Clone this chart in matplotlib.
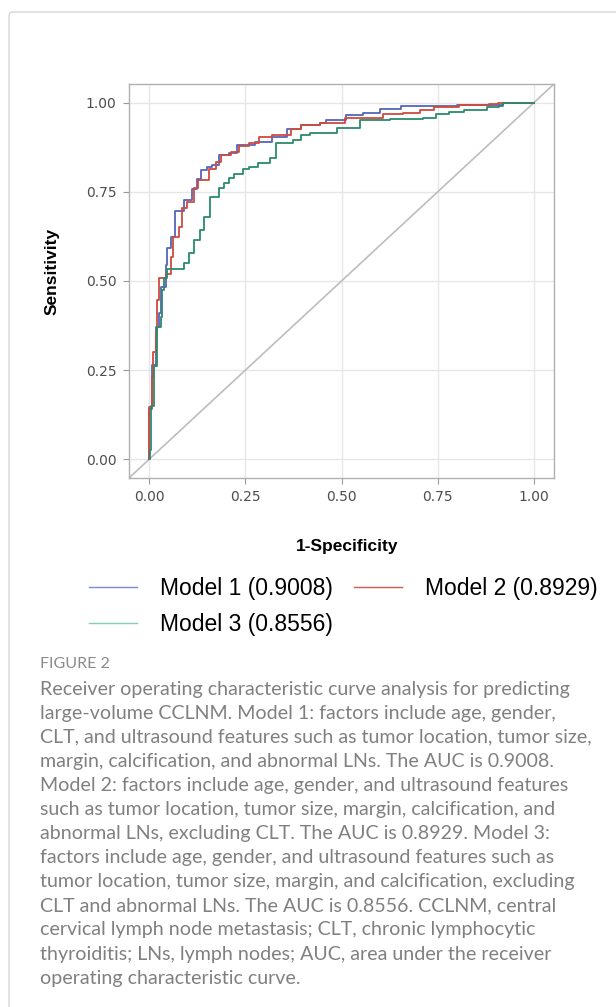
import matplotlib
matplotlib.use("Agg")
import matplotlib.pyplot as plt
from matplotlib.lines import Line2D
from matplotlib.patches import FancyBboxPatch

# ROC step curves (1-specificity, sensitivity)
fpr_m1 = [0, 0, 0.006, 0.017, 0.024, 0.030, 0.042, 0.045, 0.056, 0.068, 0.091, 0.112,
          0.125, 0.135, 0.151, 0.164, 0.182, 0.208, 0.229, 0.275, 0.32, 0.359, 0.395,
          0.443, 0.46, 0.512, 0.555, 0.599, 0.656, 0.80, 0.92, 1.0]
tpr_m1 = [0, 0.14, 0.264, 0.372, 0.41, 0.483, 0.545, 0.593, 0.624, 0.697, 0.728, 0.758,
          0.787, 0.812, 0.82, 0.826, 0.854, 0.86, 0.882, 0.89, 0.905, 0.927, 0.938,
          0.944, 0.952, 0.966, 0.972, 0.982, 0.99, 0.994, 1.0, 1.0]

fpr_m2 = [0, 0, 0.006, 0.009, 0.016, 0.019, 0.026, 0.043, 0.056, 0.061, 0.076, 0.085,
          0.097, 0.117, 0.126, 0.156, 0.174, 0.187, 0.213, 0.234, 0.26, 0.286, 0.32,
          0.369, 0.395, 0.443, 0.508, 0.607, 0.661, 0.703, 0.742, 0.807, 0.885, 0.906, 1.0]
tpr_m2 = [0, 0.146, 0.23, 0.30, 0.354, 0.447, 0.508, 0.52, 0.567, 0.624, 0.652, 0.705,
          0.722, 0.761, 0.784, 0.815, 0.834, 0.854, 0.862, 0.88, 0.888, 0.904, 0.91,
          0.927, 0.938, 0.944, 0.958, 0.969, 0.972, 0.980, 0.989, 0.993, 0.997, 1.0, 1.0]

fpr_m3 = [0, 0.002, 0.005, 0.011, 0.019, 0.030, 0.033, 0.039, 0.045, 0.091, 0.104, 0.117,
          0.132, 0.143, 0.158, 0.182, 0.195, 0.208, 0.221, 0.243, 0.26, 0.282, 0.313,
          0.33, 0.373, 0.395, 0.417, 0.487, 0.547, 0.625, 0.711, 0.747, 0.781, 0.82,
          0.878, 0.911, 0.92, 1.0]
tpr_m3 = [0, 0.025, 0.15, 0.26, 0.372, 0.40, 0.475, 0.508, 0.533, 0.55, 0.579, 0.615,
          0.643, 0.68, 0.736, 0.761, 0.775, 0.789, 0.80, 0.815, 0.82, 0.831, 0.845,
          0.888, 0.896, 0.91, 0.916, 0.93, 0.952, 0.955, 0.958, 0.969, 0.975, 0.98,
          0.989, 0.992, 1.0, 1.0]

labels = ["Model 1 (0.9008)", "Model 2 (0.8929)", "Model 3 (0.8556)"]
colors = ["#5566bb", "#cf4a3e", "#2b8a6c"]
legend_colors = ["#7d8acb", "#d0584c", "#86cdb5"]
ticks = [0.00, 0.25, 0.50, 0.75, 1.00]

caption_lines = [
    "Receiver operating characteristic curve analysis for predicting",
    "large-volume CCLNM. Model 1: factors include age, gender,",
    "CLT, and ultrasound features such as tumor location, tumor size,",
    "margin, calcification, and abnormal LNs. The AUC is 0.9008.",
    "Model 2: factors include age, gender, and ultrasound features",
    "such as tumor location, tumor size, margin, calcification, and",
    "abnormal LNs, excluding CLT. The AUC is 0.8929. Model 3:",
    "factors include age, gender, and ultrasound features such as",
    "tumor location, tumor size, margin, and calcification, excluding",
    "CLT and abnormal LNs. The AUC is 0.8556. CCLNM, central",
    "cervical lymph node metastasis; CLT, chronic lymphocytic",
    "thyroiditis; LNs, lymph nodes; AUC, area under the receiver",
    "operating characteristic curve.",
]

W, H = 616, 1007
fig = plt.figure(figsize=(W / 100, H / 100), dpi=100)

# card border around the figure
fig.patches.append(FancyBboxPatch((9 / W, -0.1), 1.2, 1.1 - 12 / H,
                                  boxstyle="round,pad=0,rounding_size=0.005",
                                  transform=fig.transFigure, fill=False,
                                  edgecolor="#d6d6d6", linewidth=1.0))

ax = fig.add_axes([129 / W, 1 - 478 / H, 425 / W, 394 / H])
ax.set_xlim(-0.053, 1.053)
ax.set_ylim(-0.053, 1.053)

ax.axline((0, 0), (1, 1), color="#bdbdbd", linewidth=1.2, zorder=1)
for fx, ty, c in zip([fpr_m1, fpr_m2, fpr_m3], [tpr_m1, tpr_m2, tpr_m3], colors):
    ax.step(fx, ty, where="post", color=c, linewidth=1.3, zorder=3)

ax.set_xticks(ticks)
ax.set_yticks(ticks)
ax.set_xticklabels([f"{t:.2f}" for t in ticks])
ax.set_yticklabels([f"{t:.2f}" for t in ticks])
ax.grid(True, color="#e6e6e6", linewidth=1.0, zorder=0)
ax.set_axisbelow(True)
for s in ax.spines.values():
    s.set_color("#b0b0b0")
    s.set_linewidth(1.0)
ax.tick_params(length=4, width=0.8, color="#999999", labelcolor="#4d4d4d",
               labelsize=10, pad=5)

fig.text(52 / W, 1 - 271 / H, "Sensitivity", rotation=90, ha="center", va="center",
         family="Liberation Sans", weight="bold", fontsize=12.5)
fig.text(347 / W, 1 - 547 / H, "1-Specificity", ha="center", va="center",
         family="Liberation Sans", weight="bold", fontsize=12.5)

# legend: row 1 = Model 1, Model 2; row 2 = Model 3 (columns fill top-down)
handles = [Line2D([], [], color=c, linewidth=1.0) for c in legend_colors]
order = [0, 2, 1]
leg = fig.legend([handles[i] for i in order], [labels[i] for i in order], ncol=2,
                 loc="upper left", bbox_to_anchor=(80 / W, 1 - 568 / H), frameon=False,
                 prop={"family": "Liberation Sans", "size": 16.5},
                 handlelength=2.1, handletextpad=1.0, columnspacing=0.9,
                 labelspacing=0.58, borderaxespad=0)

fig.text(40 / W, 1 - 664 / H, "FIGURE 2", ha="left", va="center",
         family="Lato", fontsize=11.5, color="#8a8a8a")
for i, line in enumerate(caption_lines):
    fig.text(40 / W, 1 - (689 + i * 24.1) / H, line, ha="left", va="center",
             family="Lato", fontsize=14.1, color="#808080")

fig.savefig("out.png", dpi=100)
